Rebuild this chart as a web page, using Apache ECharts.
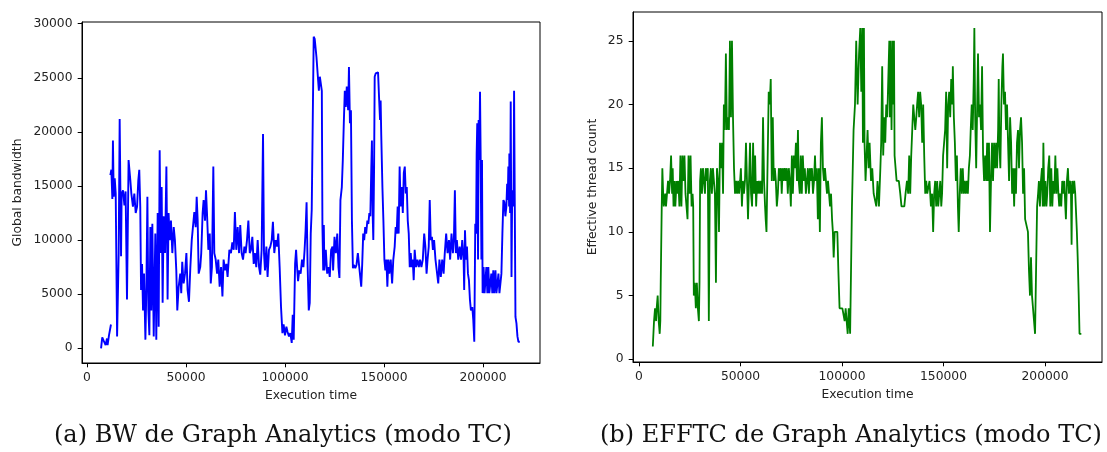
<!DOCTYPE html>
<html>
<head>
<meta charset="utf-8">
<script src="https://cdn.jsdelivr.net/npm/echarts@6/dist/echarts.min.js"></script>
<style>
html,body{margin:0;padding:0;background:#fff;}
#c{width:1107px;height:452px;}
</style>
</head>
<body>
<div id="c"></div>
<script>
// ---- Data (time, value) ----
const xTicks = [0, 50000, 100000, 150000, 200000];
const bwTicks = [0, 5000, 10000, 15000, 20000, 25000, 30000];
const effTicks = [0, 5, 10, 15, 20, 25];

const bwStart = [[7100,0],[7700,1000],[8400,700],[9400,300],[10100,900],[10400,300],[11100,1200],[12100,2200]];

const bwMain = [
[11800,16000],[12300,16500],[12800,13800],[13100,19200],[13500,14000],[14000,15700],[14500,14300],[15200,1100],[16000,8800],[16500,21200],
[17000,21200],[17200,8500],[17500,14300],[18200,14600],[18900,13200],[19500,14500],[20200,4500],[21000,17400],[21900,15500],[22400,14300],
[23200,13100],[23900,14300],[24600,12500],[25300,13100],[25900,15500],[26400,16500],[26900,13100],[27300,5400],[27800,7800],[28300,3500],
[28800,6900],[29500,800],[30000,5700],[30500,14000],[31000,3500],[31500,1200],[32000,11200],[32500,3500],[33000,11500],[33700,1100],
[34500,10600],[35000,800],[35700,12500],[36200,2000],[36700,18300],[37200,8800],[37700,14900],[38200,4200],[38700,12200],[39400,8800],
[40100,16800],[40700,4500],[41200,12500],[41800,10000],[42400,11800],[43100,8800],[43800,11200],[44400,10000],[45100,7200],[45600,3500],
[46300,5700],[47100,6900],[47600,5100],[48100,8000],[48800,6000],[49500,6900],[50200,8800],[50800,5400],[51500,4300],[52200,7500],
[52900,10000],[53500,11200],[54200,12600],[54900,11200],[55400,14000],[55900,11800],[56400,6900],[57200,7500],[57700,8800],[58400,12500],
[58900,13700],[59600,11800],[60100,14600],[60600,12500],[61300,9100],[62000,10600],[62500,6000],[63100,7500],[63800,16800],[64300,8800],
[65000,8200],[65700,6900],[66300,8200],[67000,5700],[67700,7500],[68400,4800],[69000,8200],[69700,7200],[70400,7800],[71000,6600],
[71900,9100],[72700,8800],[73400,9800],[74100,9100],[74700,12600],[75400,9100],[76100,11200],[76800,8800],[77400,11400],[78100,8800],
[78800,8200],[79500,9400],[80100,8800],[80800,10000],[81500,11800],[82200,8800],[82800,9100],[83500,10300],[84200,7800],[84800,8800],
[85500,7500],[86200,10000],[86900,7500],[87500,6800],[88200,9100],[88900,19800],[89400,8800],[89900,7200],[90600,9400],[91200,6600],
[91900,9100],[92600,9400],[93300,10000],[93900,11700],[94600,8800],[95300,10000],[96000,9400],[96600,10600],[97300,7500],[98000,3800],
[98700,1400],[99300,2200],[100000,1200],[100700,2000],[101300,1500],[102000,1100],[102700,1400],[103400,500],[103900,3100],[104400,800],
[105100,7800],[105600,9100],[106100,7500],[106600,6200],[107200,7200],[107900,6900],[108600,8200],[109300,7500],[109900,9100],[110400,10900],
[110900,13500],[111400,7800],[112000,3500],[112500,4200],[113000,10600],[113500,12800],[114000,12900],[114500,28800],[115000,28600],[115900,26900],
[116600,26900],[117100,23800],[117600,25100],[118100,25200],[118600,23800],[118900,11400],[119300,7200],[119600,11400],[119900,7200],[120600,9100],
[121300,6900],[122000,7500],[122600,6600],[123300,9100],[124000,9400],[124300,7200],[125000,10300],[125700,8800],[126400,10600],[127000,7500],
[127500,6500],[128000,13700],[128700,14900],[129200,17400],[129700,20800],[130200,23800],[130700,22300],[131200,24200],[131900,22000],[132300,26000],
[132800,20800],[133300,22000],[133800,11800],[134300,7400],[134800,7700],[135500,7400],[136100,7700],[136800,8800],[137500,7500],[138000,6600],
[138500,5700],[139000,7800],[139500,10600],[140000,10000],[140500,11200],[141000,10600],[141600,11800],[142100,11500],[142600,12500],[143100,12200],
[143600,16800],[143900,19200],[144300,12200],[144600,10000],[145000,16800],[145300,25100],[145800,25400],[146300,25400],[147000,25500],[147500,23200],
[148000,21100],[148300,22900],[148600,19800],[149200,14900],[149700,11800],[150200,8200],[150700,7200],[151200,8200],[151700,5700],[152200,8200],
[152700,6900],[153400,8200],[154100,6000],[154700,8200],[155400,9400],[155900,11200],[156400,10600],[156900,13100],[157400,10600],[157900,16800],
[158400,13100],[159000,14900],[159500,12500],[160000,16200],[160500,16800],[161000,14300],[161500,14900],[162000,11800],[162500,10600],[163000,7500],
[163500,8800],[164000,7500],[164500,8200],[165000,6300],[165500,9100],[166200,7500],[166900,8200],[167600,7500],[168200,8200],[168900,7500],
[169600,8200],[170300,10600],[170900,9400],[171500,6900],[172000,8200],[172600,9400],[173100,13700],[173600,10000],[174200,10300],[174700,9100],
[175300,10000],[176000,8200],[176700,8200],[177400,6000],[178000,8200],[178700,6600],[179400,8200],[180100,6900],[180700,8800],[181400,10600],
[182100,8800],[182800,10000],[183400,8200],[184100,10600],[184800,8800],[185300,10000],[185800,14600],[186300,8800],[186800,10000],[187500,8200],
[188200,9400],[188900,8200],[189500,10000],[190200,8200],[190500,5400],[190900,10900],[191400,8200],[191900,9400],[192400,6900],[192900,6300],
[193400,4500],[193900,3500],[194600,3800],[195100,2600],[195600,600],[196100,11500],[196500,10600],[196800,18000],[197100,20800],[197500,8200],
[197800,21100],[198100,17400],[198500,23700],[198800,18000],[199200,8200],[199500,17400],[199800,5100],[200300,7500],[200800,5100],[201400,5100],
[201700,7500],[202200,5100],[202700,7500],[203200,5100],[203700,5100],[204200,6900],[204700,5100],[205200,7200],[205700,5100],[206300,7200],
[206800,5100],[207300,5100],[207800,6900],[208300,5100],[208800,5100],[209300,6900],[209800,10600],[210300,13700],[210800,13500],[211300,12200],
[211800,13100],[212200,15200],[212500,13700],[212800,16800],[213200,13100],[213300,18000],[213700,12500],[214000,22800],[214400,6600],[214700,13400],
[215000,14600],[215400,13100],[215700,23800],[216000,23800],[216400,2900],[216900,2300],[217400,1100],[217900,600],[218600,600]
];

const effThreads = [
[6800,1],[7400,3],[7900,4],[8400,3],[8700,4],[9200,5],[9700,3],[10200,2],[10500,3],[10700,6],
[11200,12],[11500,15],[11900,13],[12200,12],[12900,13],[13300,12],[13800,13],[14300,14],[14800,13],[15300,14],
[15800,16],[16300,13],[16600,15],[17000,12],[17500,14],[17900,12],[18500,14],[18900,13],[19400,14],[19900,12],
[20400,16],[20900,12],[21400,16],[21900,14],[22400,16],[22900,13],[23400,12],[23900,11],[24400,16],[24900,13],
[25400,16],[25900,12],[26400,13],[26700,12],[27000,5],[27500,6],[28000,4],[28500,6],[29000,4],[29500,3],
[29800,6],[30100,14],[30500,15],[31000,13],[31500,15],[32000,14],[32500,13],[32900,15],[33400,14],[33900,15],
[34400,3],[34900,14],[35400,15],[35900,13],[36400,15],[36900,14],[37400,13],[37900,6],[38400,15],[38900,14],
[39400,10],[39900,17],[40400,15],[40900,17],[41400,13],[41800,20],[42300,18],[42800,24],[43300,18],[43800,19],
[44300,18],[44800,25],[45300,19],[45800,25],[46300,19],[46800,15],[47300,13],[47800,14],[48300,13],[48800,14],
[49300,13],[49800,14],[50200,15],[50700,12],[51200,14],[51700,13],[52200,14],[52700,17],[53200,14],[53700,11],
[54200,14],[54700,17],[55200,13],[55700,12],[56200,17],[56700,13],[57200,16],[57700,12],[58200,14],[58600,13],
[59100,14],[59600,13],[60100,14],[60600,13],[61100,19],[61600,14],[62100,12],[62400,11],[62800,10],[63400,10],
[63900,21],[64400,20],[64900,22],[65400,14],[65900,19],[66400,14],[66900,15],[67400,14],[67900,12],[68400,13],
[68900,15],[69400,14],[69900,15],[70300,13],[70800,15],[71300,14],[71800,15],[72300,14],[72800,15],[73300,13],
[73800,15],[74300,14],[74800,12],[75300,16],[75800,13],[76300,16],[76800,15],[77300,17],[77800,14],[78300,18],
[78700,14],[79200,13],[79700,16],[80200,13],[80700,16],[81200,14],[81700,15],[82200,13],[82700,14],[83200,15],
[83700,13],[84200,15],[84700,14],[85200,15],[85700,13],[86200,14],[86700,16],[87100,14],[87600,15],[88100,11],
[88600,15],[89100,10],[89600,17],[90100,19],[90600,15],[91100,14],[91600,15],[92100,14],[92600,13],[93100,14],
[93600,13],[94100,12],[94600,13],[95100,11],[95500,10],[95900,8],[96400,10],[97000,10],[97700,10],[98200,7],
[98800,4],[99500,4],[100200,4],[100800,4],[101300,3],[101800,4],[102300,3],[102800,2],[103300,4],[104000,2],
[104900,12],[105700,18],[106400,20],[107000,25],[107700,20],[108400,24],[109000,26],[109500,21],[110000,26],[110300,17],
[110800,26],[111100,17],[111600,14],[112100,16],[112600,18],[113100,15],[113600,17],[114300,14],[114900,15],[115600,13],
[116200,13],[116900,12],[117500,14],[118200,12],[118900,15],[119300,17],[119800,23],[120300,16],[120800,19],[121300,17],
[121800,20],[122300,19],[122800,22],[123300,25],[123600,19],[123900,25],[124400,18],[124900,25],[125300,20],[125600,25],
[125900,16],[126400,15],[126900,14],[127400,14],[128000,14],[128700,13],[129300,12],[130000,12],[130700,12],[131300,13],
[132000,14],[132600,13],[133100,16],[133600,13],[134100,16],[134600,18],[135100,20],[135600,19],[136100,18],[136600,19],
[137000,20],[137500,21],[138000,19],[138500,21],[139000,20],[139500,17],[140000,20],[140500,16],[141000,13],[141500,14],
[142000,13],[142500,13],[143100,14],[143800,12],[144400,13],[144900,10],[145400,13],[145900,14],[146400,12],[146900,14],
[147400,12],[147900,13],[148400,14],[148900,12],[149300,13],[149800,16],[150300,17],[150800,18],[151300,21],[151800,15],
[152300,20],[152800,21],[153300,19],[153800,22],[154300,20],[154600,23],[155100,19],[155600,17],[156100,14],[156600,16],
[157100,12],[157500,10],[158000,13],[158500,15],[159000,13],[159500,15],[160000,13],[160500,14],[161000,13],[161500,14],
[162000,13],[162500,15],[163000,16],[163400,18],[163900,20],[164400,18],[164900,22],[165200,26],[165600,19],[166100,15],
[166600,20],[167000,24],[167500,19],[168000,20],[168500,18],[169000,23],[169500,16],[170000,14],[170500,16],[171000,14],
[171500,17],[171900,14],[172400,17],[172900,10],[173400,14],[173900,17],[174400,14],[174900,17],[175400,15],[175900,17],
[176400,15],[176900,18],[177200,22],[177500,17],[178000,15],[178500,20],[179000,23],[179300,24],[179800,20],[180300,21],
[180800,18],[181300,20],[181800,17],[182300,14],[182800,19],[183300,17],[183800,13],[184300,15],[184800,12],[185200,15],
[185700,13],[186200,17],[186700,18],[187200,15],[187700,18],[188200,19],[188700,17],[189200,13],[189700,15],[190200,11],
[190700,11],[191100,11],[191600,10],[192100,7],[192600,5],[193100,8],[193600,5],[194100,4],[194600,3],[195100,2],
[195600,2],[196100,12],[196600,13],[197000,14],[197500,12],[198000,14],[198500,15],[198900,12],[199200,17],[199700,12],
[200200,14],[200700,12],[201100,13],[201600,15],[202100,16],[202600,12],[203100,15],[203600,12],[204100,14],[204600,13],
[205100,16],[205600,13],[206100,15],[206600,13],[207000,12],[207500,13],[208000,12],[208500,14],[209000,13],[209500,14],
[210000,12],[210300,11],[210800,14],[211300,15],[211800,13],[212300,14],[212800,13],[213100,9],[213400,14],[213900,13],
[214400,14],[214900,13],[215400,13],[215700,10],[216100,8],[216600,5],[217000,2],[217900,2]
];

const captionA = '(a) BW de Graph Analytics (modo TC)';
const captionB = '(b) EFFTC de Graph Analytics (modo TC)';

// ---- Chart ----
const chart = echarts.init(document.getElementById('c'), null, {renderer: 'canvas'});
const plain = v => String(v);
const tickFont = {fontFamily: 'DejaVu Sans', fontSize: 12.3, color: '#222'};
const nameFont = {fontFamily: 'DejaVu Sans', fontSize: 12.3, color: '#222'};

function xAxis(gridIndex, min, max) {
  return {
    type: 'value', gridIndex, min, max,
    name: 'Execution time', nameLocation: 'middle', nameGap: 27, nameTextStyle: nameFont,
    axisLine: {show: true, onZero: false, lineStyle: {color: '#000', width: 1}},
    axisTick: {show: true, length: 4.3, customValues: xTicks, lineStyle: {color: '#000', width: 1}},
    axisLabel: Object.assign({customValues: xTicks, margin: 9, formatter: plain}, tickFont),
    splitLine: {show: false}
  };
}
function yAxis(gridIndex, min, max, ticks, name, gap) {
  return {
    type: 'value', gridIndex, min, max,
    name, nameLocation: 'middle', nameGap: gap, nameTextStyle: nameFont,
    axisLine: {show: true, onZero: false, lineStyle: {color: '#000', width: 1}},
    axisTick: {show: true, length: 4.3, customValues: ticks, lineStyle: {color: '#000', width: 1}},
    axisLabel: Object.assign({customValues: ticks, margin: 9.5, formatter: plain}, tickFont),
    splitLine: {show: false}
  };
}

const option = {
  animation: false,
  backgroundColor: '#fff',
  grid: [
    {left: 82, top: 22, width: 458, height: 341, show: true, borderColor: '#000', borderWidth: 1, backgroundColor: 'transparent'},
    {left: 633, top: 12, width: 469, height: 350, show: true, borderColor: '#000', borderWidth: 1, backgroundColor: 'transparent'}
  ],
  xAxis: [xAxis(0, -2525, 228790), xAxis(1, -2956, 228080)],
  yAxis: [
    yAxis(0, -1359, 30157, bwTicks, 'Global bandwidth', 58),
    yAxis(1, -0.212, 27.26, effTicks, 'Effective thread count', 34)
  ],
  series: [
    {type: 'line', xAxisIndex: 0, yAxisIndex: 0, data: bwStart, showSymbol: false, symbol: 'none',
     lineStyle: {color: '#0000ff', width: 1.9}, itemStyle: {color: '#0000ff'}, clip: true},
    {type: 'line', xAxisIndex: 0, yAxisIndex: 0, data: bwMain, showSymbol: false, symbol: 'none',
     lineStyle: {color: '#0000ff', width: 1.9}, itemStyle: {color: '#0000ff'}, clip: true},
    {type: 'line', xAxisIndex: 1, yAxisIndex: 1, data: effThreads, showSymbol: false, symbol: 'none',
     lineStyle: {color: '#008000', width: 1.8}, itemStyle: {color: '#008000'}, clip: true}
  ],
  graphic: [
    {type: 'text', left: 54, top: 424, style: {text: captionA, font: '24px "DejaVu Serif"', fill: '#111'}},
    {type: 'text', left: 600, top: 424, style: {text: captionB, font: '24px "DejaVu Serif"', fill: '#111'}}
  ]
};
chart.setOption(option);
</script>
</body>
</html>
